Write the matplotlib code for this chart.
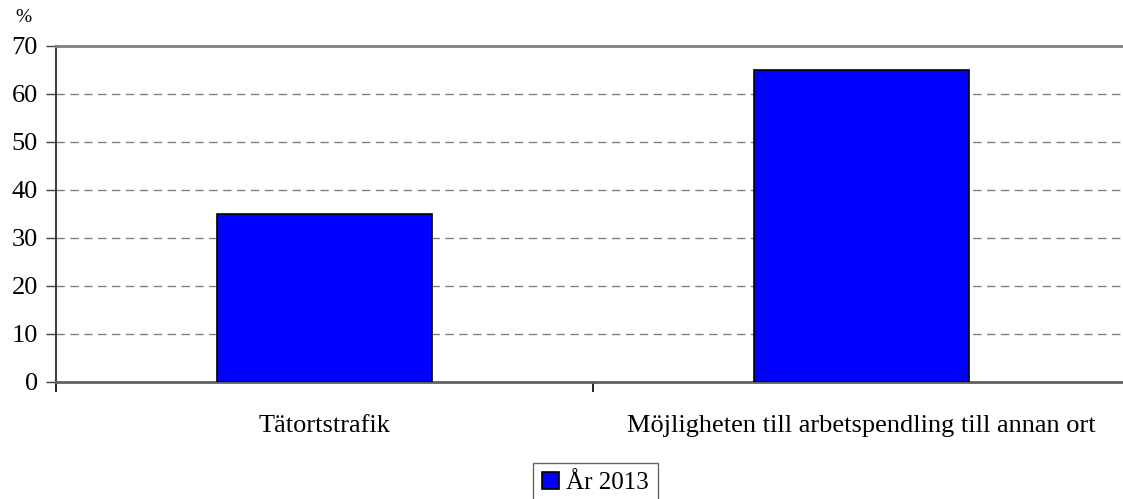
import matplotlib.pyplot as plt

categories = ['Tätortstrafik', 'Möjligheten till arbetspendling till annan ort']
values = [35, 65]
series_name = 'År 2013'
yticks = [0, 10, 20, 30, 40, 50, 60, 70]

plt.rcParams['font.family'] = ['Liberation Serif', 'DejaVu Serif']

W, H = 1123, 499
fig = plt.figure(figsize=(W / 100, H / 100), dpi=100)
# axes in pixel coords: left 56, right 1130, top 46, bottom 382
ax = fig.add_axes([56 / W, (H - 382) / H, (1130 - 56) / W, (382 - 46) / H])

x = list(range(len(categories)))
ax.bar(x, values, width=0.4, color='#0000ff', edgecolor='black', linewidth=1.2,
       label=series_name, zorder=3)

ax.set_xlim(-0.5, len(categories) - 0.5)
ax.set_ylim(0, 70)
ax.set_yticks(yticks)
ax.set_yticklabels([str(t) for t in yticks], fontsize=19)
ax.tick_params(axis='y', direction='out', length=7, width=1, color='#404040', pad=6)

# category labels centred, ticks on category boundaries
ax.set_xticks(x)
ax.set_xticklabels(categories, fontsize=19)
ax.tick_params(axis='x', length=0, pad=24)
ax.set_xticks([-0.5, 0.5, 1.5], minor=True)
ax.tick_params(axis='x', which='minor', direction='out', length=7, width=1.2, color='black')

for t in yticks[1:-1]:
    ax.axhline(t, color='#808080', linestyle=(0, (6, 4)), linewidth=1, zorder=1)

ax.spines['top'].set_color('#808080')
ax.spines['top'].set_linewidth(2)
ax.spines['right'].set_visible(False)
ax.spines['left'].set_color('#404040')
ax.spines['left'].set_linewidth(1.5)
ax.spines['bottom'].set_color('#606060')
ax.spines['bottom'].set_linewidth(2)

fig.text(15 / W, 1 - 18 / H, '%', fontsize=14, va='center', ha='left')

leg = fig.legend(loc='upper left', bbox_to_anchor=(533 / W, 1 - 463 / H), ncol=1,
                 fontsize=18, frameon=True, fancybox=False, edgecolor='#404040',
                 handlelength=0.68, handleheight=0.68, handletextpad=0.3,
                 borderpad=0.35, borderaxespad=0)
leg.get_frame().set_linewidth(1)

fig.savefig('out.png', dpi=100)
